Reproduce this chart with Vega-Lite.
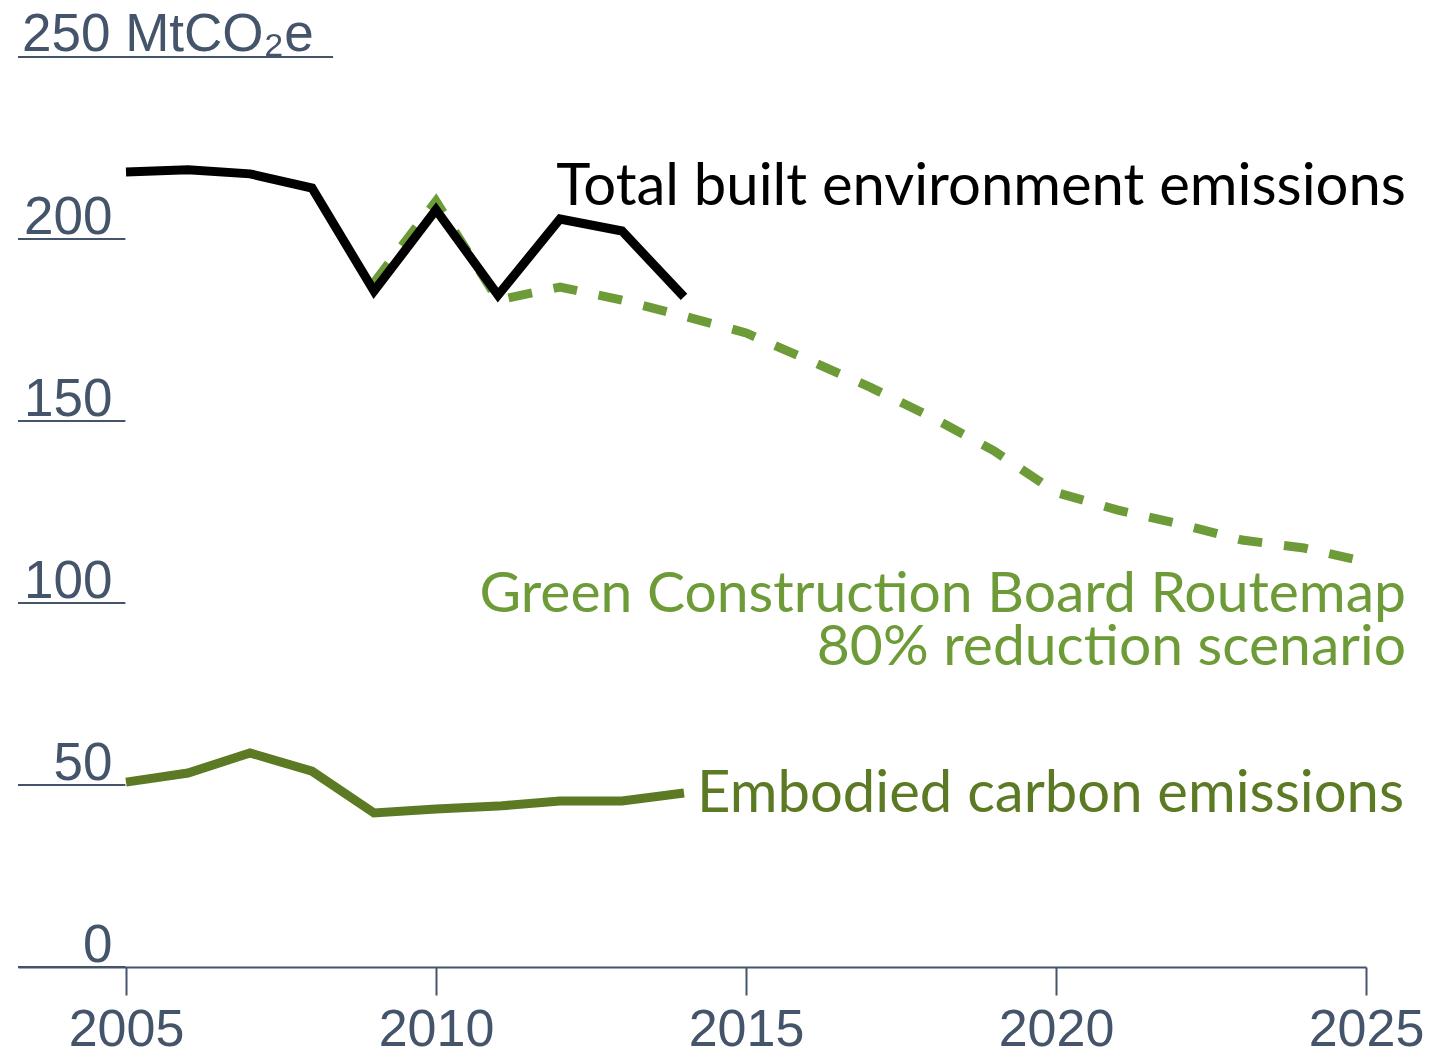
{
  "$schema": "https://vega.github.io/schema/vega-lite/v6.json",
  "width": 1348,
  "height": 910,
  "autosize": "none",
  "padding": {"left": 18, "top": 57, "right": 83, "bottom": 85},
  "background": "white",
  "config": {"view": {"stroke": null}},
  "datasets": {
    "total": [
      {"year": 2005, "value": 218.4}, {"year": 2006, "value": 219.0}, {"year": 2007, "value": 217.9},
      {"year": 2008, "value": 214.0}, {"year": 2009, "value": 185.7}, {"year": 2010, "value": 208.0},
      {"year": 2011, "value": 184.6}, {"year": 2012, "value": 205.5}, {"year": 2013, "value": 202.2},
      {"year": 2014, "value": 184.1}
    ],
    "routemap": [
      {"year": 2009, "value": 188.0}, {"year": 2010, "value": 210.4}, {"year": 2011, "value": 183.2},
      {"year": 2012, "value": 186.8}, {"year": 2013, "value": 183.2}, {"year": 2014, "value": 178.8},
      {"year": 2015, "value": 174.2}, {"year": 2016, "value": 166.8}, {"year": 2017, "value": 159.3},
      {"year": 2018, "value": 151.0}, {"year": 2019, "value": 141.8}, {"year": 2020, "value": 130.4},
      {"year": 2021, "value": 125.5}, {"year": 2022, "value": 121.7}, {"year": 2023, "value": 117.3},
      {"year": 2024, "value": 115.1}, {"year": 2025, "value": 111.3}
    ],
    "embodied": [
      {"year": 2005, "value": 50.8}, {"year": 2006, "value": 53.3}, {"year": 2007, "value": 58.8},
      {"year": 2008, "value": 53.8}, {"year": 2009, "value": 42.3}, {"year": 2010, "value": 43.4},
      {"year": 2011, "value": 44.2}, {"year": 2012, "value": 45.6}, {"year": 2013, "value": 45.6},
      {"year": 2014, "value": 47.8}
    ],
    "ticks": [{"v": 0}, {"v": 50}, {"v": 100}, {"v": 150}, {"v": 200}]
  },
  "layer": [
    {
      "data": {"name": "ticks"},
      "mark": {"type": "rule", "color": "#44546a", "strokeWidth": 2},
      "encoding": {
        "x": {"datum": 2003.258, "type": "quantitative",
          "scale": {"domain": [2003.258, 2025], "nice": false, "zero": false},
          "axis": {"values": [2005, 2010, 2015, 2020, 2025], "format": "d", "grid": false,
            "domainColor": "#44546a", "domainWidth": 2, "tickColor": "#44546a", "tickWidth": 2,
            "tickSize": 28, "labelFontSize": 52, "labelFont": "Liberation Sans", "labelColor": "#44546a",
            "labelPadding": 9, "title": null, "labelFlush": false}},
        "x2": {"datum": 2004.99},
        "y": {"field": "v", "type": "quantitative",
          "scale": {"domain": [0, 250], "nice": false},
          "axis": {"values": [0, 50, 100, 150, 200], "grid": false, "domain": false, "ticks": false,
            "labelAlign": "right", "labelPadding": -94, "labelBaseline": "alphabetic", "labelOffset": -6,
            "labelFontSize": 53, "labelFont": "Liberation Sans", "labelColor": "#44546a", "title": null}}
      }
    },
    {
      "data": {"values": [{"v": 250}]},
      "mark": {"type": "rule", "color": "#44546a", "strokeWidth": 2},
      "encoding": {
        "x": {"datum": 2003.258, "type": "quantitative"},
        "x2": {"datum": 2008.34},
        "y": {"field": "v", "type": "quantitative"}
      }
    },
    {
      "data": {"values": [{"v": 250}]},
      "mark": {"type": "text", "text": "250 MtCO₂e", "align": "left", "baseline": "alphabetic", "dy": -6,
        "font": "Liberation Sans", "fontSize": 53, "color": "#44546a"},
      "encoding": {
        "x": {"datum": 2003.323, "type": "quantitative"},
        "y": {"field": "v", "type": "quantitative"}
      }
    },
    {
      "data": {"name": "routemap"},
      "mark": {"type": "line", "color": "#6d9b37", "strokeWidth": 9, "strokeDash": [24, 22], "strokeJoin": "miter"},
      "encoding": {
        "x": {"field": "year", "type": "quantitative"},
        "y": {"field": "value", "type": "quantitative"}
      }
    },
    {
      "data": {"name": "total"},
      "mark": {"type": "line", "color": "#000000", "strokeWidth": 9, "strokeJoin": "miter"},
      "encoding": {
        "x": {"field": "year", "type": "quantitative"},
        "y": {"field": "value", "type": "quantitative"}
      }
    },
    {
      "data": {"name": "embodied"},
      "mark": {"type": "line", "color": "#5b7a23", "strokeWidth": 9, "strokeJoin": "miter"},
      "encoding": {
        "x": {"field": "year", "type": "quantitative"},
        "y": {"field": "value", "type": "quantitative"}
      }
    },
    {
      "data": {"values": [{"v": 0}]},
      "mark": {"type": "text", "text": "Total built environment emissions", "align": "right", "baseline": "alphabetic",
        "font": "Lato", "fontSize": 58, "color": "#000000"},
      "encoding": {
        "x": {"datum": 2025.645, "type": "quantitative"},
        "y": {"datum": 209.3, "type": "quantitative"}
      }
    },
    {
      "data": {"values": [{"v": 0}]},
      "mark": {"type": "text", "text": ["Green Construction Board Routemap", "80% reduction scenario"], "align": "right", "baseline": "alphabetic",
        "font": "Lato", "fontSize": 57, "lineHeight": 53, "color": "#6d9b37"},
      "encoding": {
        "x": {"datum": 2025.645, "type": "quantitative"},
        "y": {"datum": 97.5, "type": "quantitative"}
      }
    },
    {
      "data": {"values": [{"v": 0}]},
      "mark": {"type": "text", "text": "Embodied carbon emissions", "align": "left", "baseline": "alphabetic",
        "font": "Lato", "fontSize": 58, "color": "#5b7a23"},
      "encoding": {
        "x": {"datum": 2014.21, "type": "quantitative"},
        "y": {"datum": 42.6, "type": "quantitative"}
      }
    }
  ]
}
